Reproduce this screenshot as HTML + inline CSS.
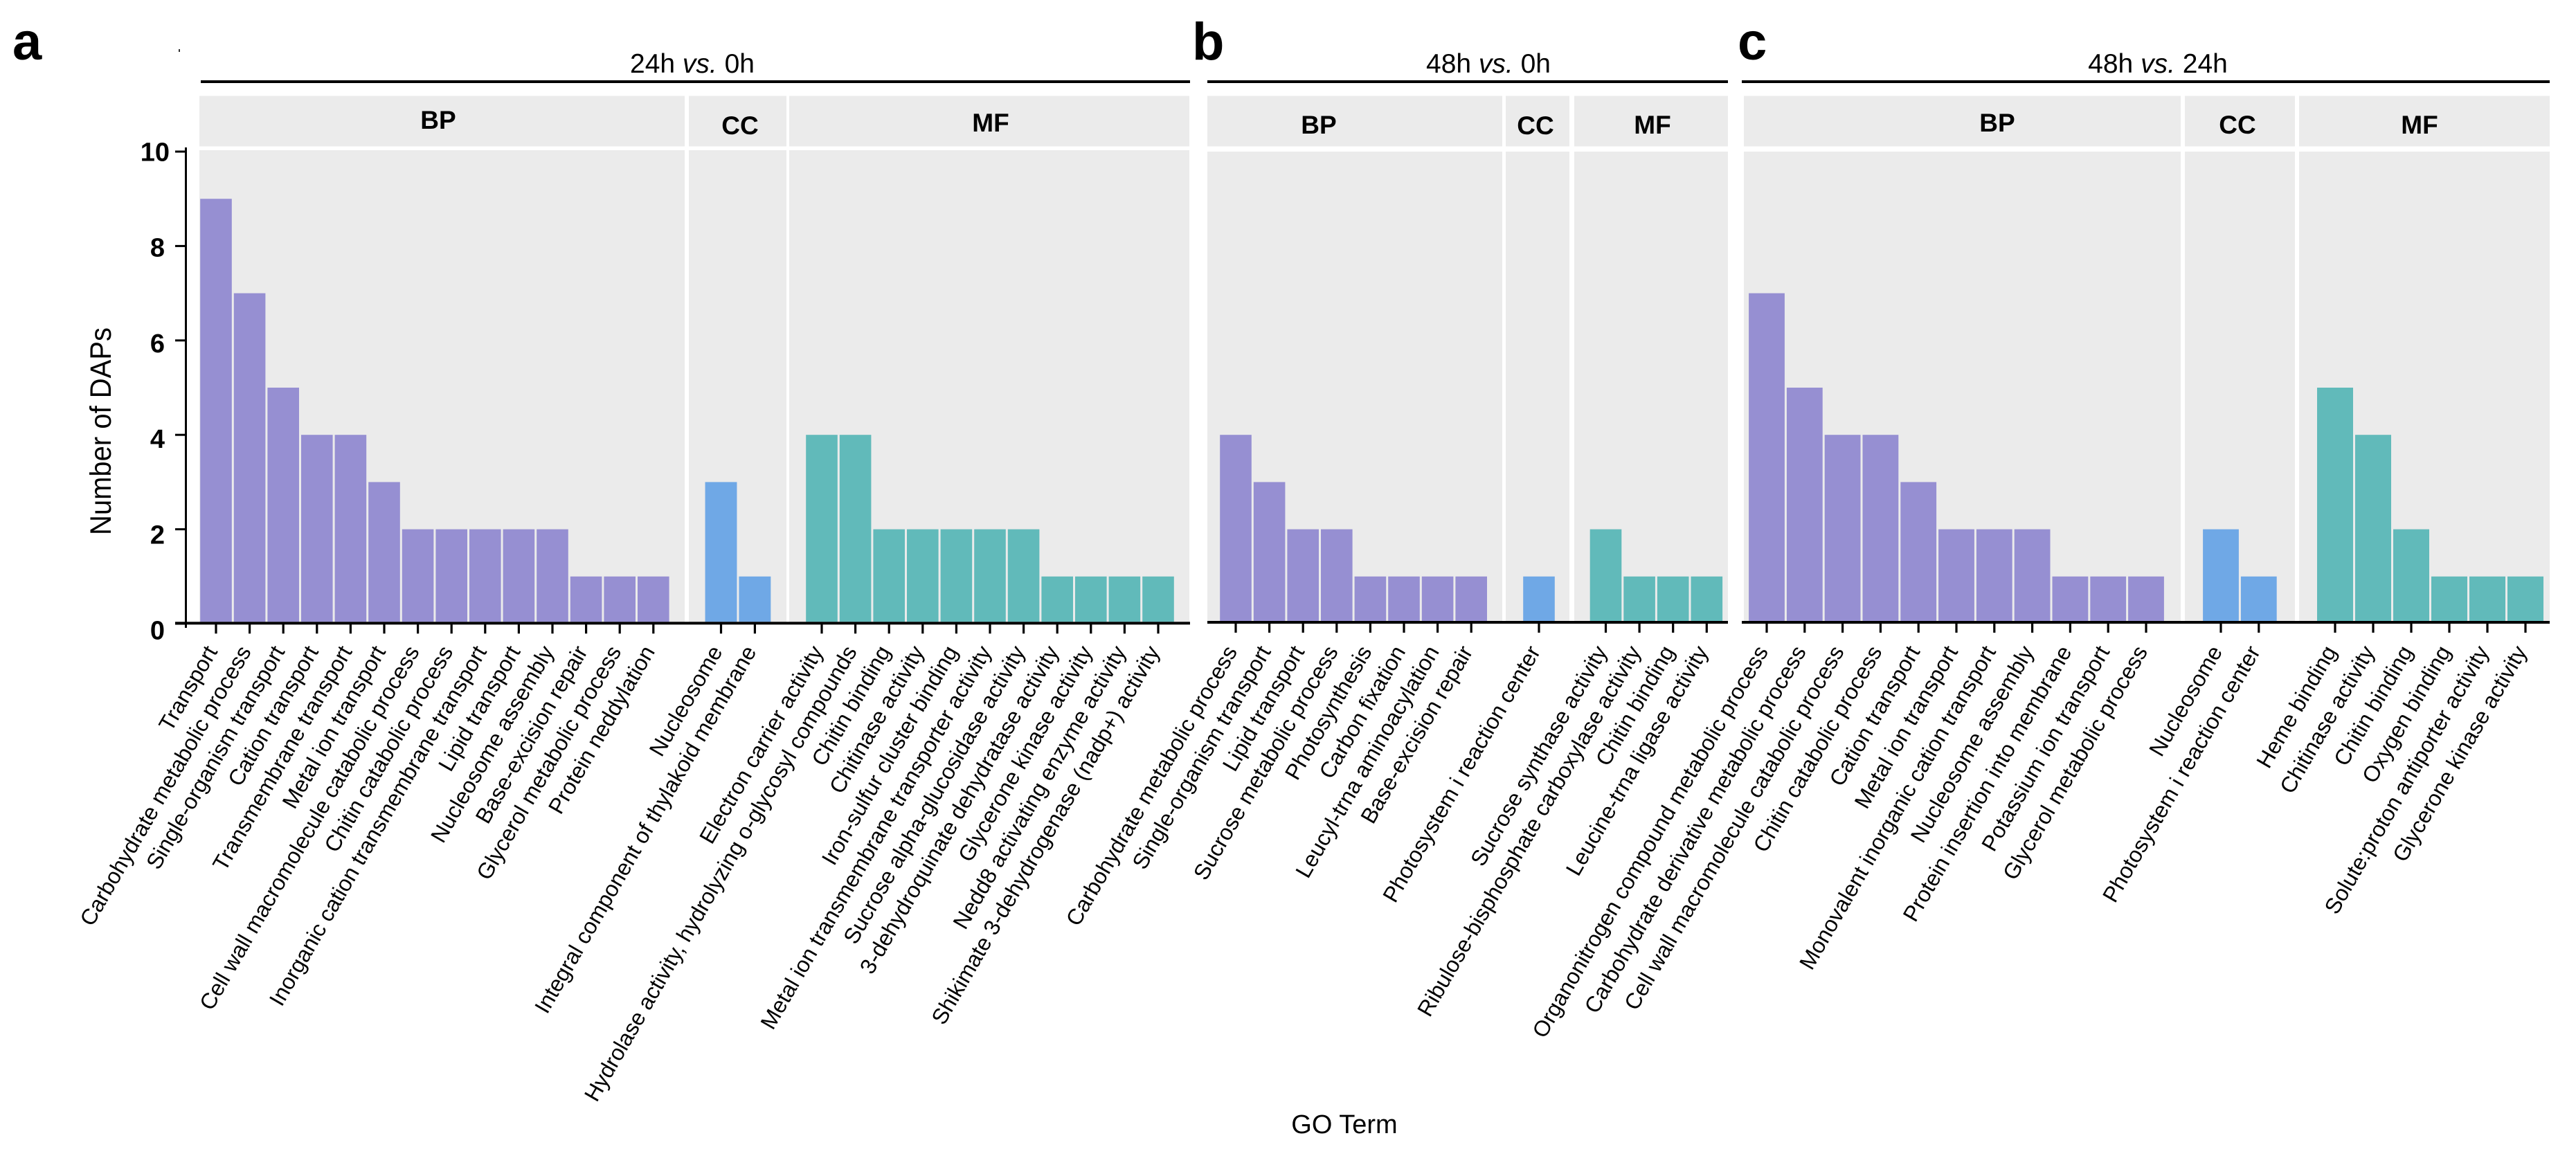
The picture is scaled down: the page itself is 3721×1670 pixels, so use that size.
<!DOCTYPE html>
<html lang="en">
<head>
<meta charset="utf-8">
<title>GO term enrichment of DAPs</title>
<style>
html,body{margin:0;padding:0;background:#fff;}
svg{display:block;font-family:"Liberation Sans",Arial,sans-serif;}
</style>
</head>
<body>
<svg id="chart" xmlns="http://www.w3.org/2000/svg" width="3721" height="1670" viewBox="0 0 3721 1670">
  <rect x="0" y="0" width="3721" height="1670" fill="#ffffff"/>
  <text x="18" y="86" font-size="76" font-weight="700">a</text>
  <text x="1722" y="86" font-size="76" font-weight="700">b</text>
  <text x="2510" y="86" font-size="76" font-weight="700">c</text>
  <rect x="258" y="71" width="2" height="4" fill="#333333"/>

  <text x="1000" y="105" font-size="39" text-anchor="middle">24h <tspan font-style="italic">vs.</tspan> 0h</text>
  <text x="2150" y="105" font-size="39" text-anchor="middle">48h <tspan font-style="italic">vs.</tspan> 0h</text>
  <text x="3117" y="105" font-size="39" text-anchor="middle">48h <tspan font-style="italic">vs.</tspan> 24h</text>
  <rect x="290" y="116" width="1429" height="4" fill="#000000"/>
  <rect x="1744" y="116" width="752" height="4" fill="#000000"/>
  <rect x="2516" y="116" width="1167" height="4" fill="#000000"/>

  <text transform="translate(160 623) rotate(-90)" font-size="43" text-anchor="middle" textLength="300" lengthAdjust="spacingAndGlyphs">Number of DAPs</text>
  <text x="1942" y="1637" font-size="38" text-anchor="middle">GO Term</text>

  <rect x="267" y="213" width="3" height="694" fill="#000000"/>
  <g id="layer-panels"></g>
  <g id="layer-bars"></g>
  <g id="layer-axes"></g>
  <g id="layer-labels"></g>
</svg>
<script>
// ---------- data ----------
const yTicks = [0, 2, 4, 6, 8, 10];

const aBpTerms = ["Transport","Carbohydrate metabolic process","Single-organism transport","Cation transport","Transmembrane transport","Metal ion transport","Cell wall macromolecule catabolic process","Chitin catabolic process","Inorganic cation transmembrane transport","Lipid transport","Nucleosome assembly","Base-excision repair","Glycerol metabolic process","Protein neddylation"];
const aBpValues = [9,7,5,4,4,3,2,2,2,2,2,1,1,1];
const aCcTerms = ["Nucleosome","Integral component of thylakoid membrane"];
const aCcValues = [3,1];
const aMfTerms = ["Electron carrier activity","Hydrolase activity, hydrolyzing o-glycosyl compounds","Chitin binding","Chitinase activity","Iron-sulfur cluster binding","Metal ion transmembrane transporter activity","Sucrose alpha-glucosidase activity","3-dehydroquinate dehydratase activity","Glycerone kinase activity","Nedd8 activating enzyme activity","Shikimate 3-dehydrogenase (nadp+) activity"];
const aMfValues = [4,4,2,2,2,2,2,1,1,1,1];

const bBpTerms = ["Carbohydrate metabolic process","Single-organism transport","Lipid transport","Sucrose metabolic process","Photosynthesis","Carbon fixation","Leucyl-trna aminoacylation","Base-excision repair"];
const bBpValues = [4,3,2,2,1,1,1,1];
const bCcTerms = ["Photosystem i reaction center"];
const bCcValues = [1];
const bMfTerms = ["Sucrose synthase activity","Ribulose-bisphosphate carboxylase activity","Chitin binding","Leucine-trna ligase activity"];
const bMfValues = [2,1,1,1];

const cBpTerms = ["Organonitrogen compound metabolic process","Carbohydrate derivative metabolic process","Cell wall macromolecule catabolic process","Chitin catabolic process","Cation transport","Metal ion transport","Monovalent inorganic cation transport","Nucleosome assembly","Protein insertion into membrane","Potassium ion transport","Glycerol metabolic process"];
const cBpValues = [7,5,4,4,3,2,2,2,1,1,1];
const cCcTerms = ["Nucleosome","Photosystem i reaction center"];
const cCcValues = [2,1];
const cMfTerms = ["Heme binding","Chitinase activity","Chitin binding","Oxygen binding","Solute:proton antiporter activity","Glycerone kinase activity"];
const cMfValues = [5,4,2,1,1,1];

// ---------- layout ----------
const COLORS = {BP:"#968fd2", CC:"#6fa8e6", MF:"#61baba"};
const Y0 = 901, UNIT = 68.2;
function yScale(v){ return Y0 - v * UNIT; }

const facets = [
  {id:"a-bp", group:"BP", left:288,  right:989,  top:217, base:898.3, first:312,  step:48.6, labelX:633,  labelY:186, terms:aBpTerms, values:aBpValues},
  {id:"a-cc", group:"CC", left:995,  right:1136, top:217, base:898.3, first:1041.5,step:48.9, labelX:1069, labelY:194, terms:aCcTerms, values:aCcValues},
  {id:"a-mf", group:"MF", left:1140, right:1718, top:217, base:898.3, first:1187, step:48.6, labelX:1431, labelY:190, terms:aMfTerms, values:aMfValues},
  {id:"b-bp", group:"BP", left:1744, right:2170, top:219, base:897, first:1785, step:48.6, labelX:1905, labelY:193, terms:bBpTerms, values:bBpValues},
  {id:"b-cc", group:"CC", left:2175, right:2267, top:219, base:897, first:2223, step:48.6, labelX:2218, labelY:194, terms:bCcTerms, values:bCcValues},
  {id:"b-mf", group:"MF", left:2274, right:2496, top:219, base:897, first:2319.5,step:48.6, labelX:2387, labelY:193, terms:bMfTerms, values:bMfValues},
  {id:"c-bp", group:"BP", left:2519, right:3150, top:219, base:897, first:2552, step:54.8, labelX:2885, labelY:190, terms:cBpTerms, values:cBpValues},
  {id:"c-cc", group:"CC", left:3156, right:3315, top:219, base:897, first:3208, step:54.8, labelX:3232, labelY:193, terms:cCcTerms, values:cCcValues},
  {id:"c-mf", group:"MF", left:3321, right:3683, top:219, base:897, first:3373, step:55,   labelX:3495, labelY:193, terms:cMfTerms, values:cMfValues}
];
const axisSegments = [
  {id:"a", from:253,  to:1719, y:898.3},
  {id:"b", from:1744, to:2496, y:897},
  {id:"c", from:2516, to:3683, y:897}
];

// ---------- drawing ----------
const NS = "http://www.w3.org/2000/svg";
function make(parent, tag, attrs, text){
  const el = document.createElementNS(NS, tag);
  for (const k in attrs) el.setAttribute(k, attrs[k]);
  if (text !== undefined) el.textContent = text;
  parent.appendChild(el);
  return el;
}
const panelsLayer = document.getElementById("layer-panels");
const barsLayer = document.getElementById("layer-bars");
const axesLayer = document.getElementById("layer-axes");
const labelsLayer = document.getElementById("layer-labels");

facets.forEach(function(f){
  const strip = make(panelsLayer, "rect", {x:f.left, y:138.5, width:f.right-f.left, height:73, fill:"#ebebeb"});
  
  
  const panel = make(panelsLayer, "rect", {x:f.left, y:f.top, width:f.right-f.left, height:f.base-f.top, fill:"#ebebeb"});
  
  
  const stripLabel = make(panelsLayer, "text", {x:f.labelX, y:f.labelY, "font-size":37, "font-weight":700, "text-anchor":"middle"}, f.group);
  
  

  const barW = f.step - 3;
  f.values.forEach(function(v, i){
    const cx = f.first + i * f.step;
    const bar = make(barsLayer, "rect", {x:cx-barW/2, y:yScale(v), width:barW, height:f.base-yScale(v), fill:COLORS[f.group]});
    
    
    const tick = make(axesLayer, "rect", {x:cx-1.6, y:f.base+2, width:3.2, height:15, fill:"#000000"});
    
    
    const label = make(labelsLayer, "text", {transform:"translate("+(cx+3)+" 941) rotate(-60)", "font-size":32, "text-anchor":"end", fill:"#000000"}, f.terms[i]);
    
    
  });
});

axisSegments.forEach(function(s){
  const line = make(axesLayer, "rect", {x:s.from, y:s.y, width:s.to-s.from, height:4, fill:"#000000"});
  
  
});

yTicks.forEach(function(t){
  const tick = make(axesLayer, "rect", {x:253, y:yScale(t)-1.5, width:15, height:3, fill:"#000000"});
  
  
  const label = make(axesLayer, "text", {x:t >= 10 ? 245 : 238, y:yScale(t)+13.5+(10-t)*0.9, "font-size":38, "font-weight":700, "text-anchor":"end"}, String(t));
  
  
});
</script>
</body>
</html>
